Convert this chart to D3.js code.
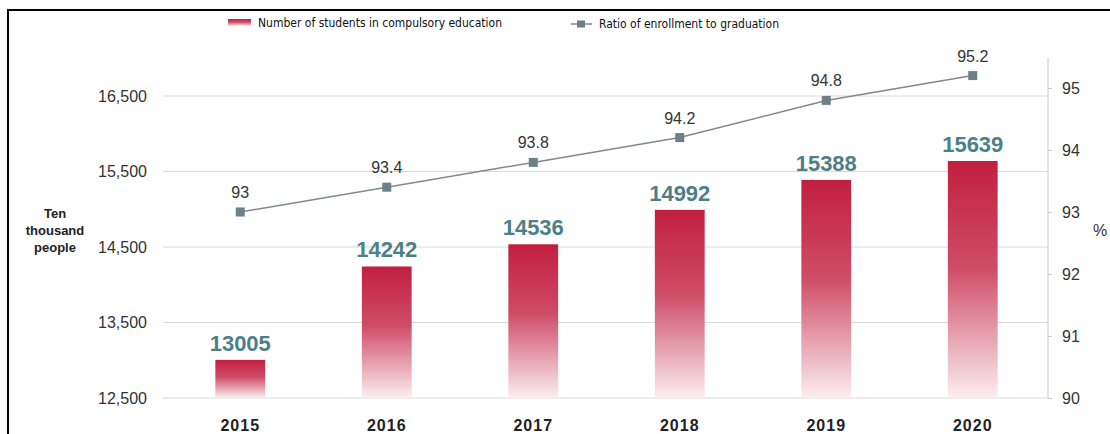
<!DOCTYPE html>
<html>
<head>
<meta charset="utf-8">
<script src="https://cdn.jsdelivr.net/npm/d3@7"></script>
<style>
  body { margin: 0; background: #fff; }
  svg { display: block; font-family: Arial, "Liberation Sans", sans-serif; }
</style>
</head>
<body>
<div id="chart"></div>
<script>
// data
var years = ["2015", "2016", "2017", "2018", "2019", "2020"];
var students = [13005, 14242, 14536, 14992, 15388, 15639];
var ratio = [93, 93.4, 93.8, 94.2, 94.8, 95.2];
var leftTicks = [12500, 13500, 14500, 15500, 16500];
var rightTicks = [90, 91, 92, 93, 94, 95];

var W = 1110, H = 434;
var svg = d3.select("#chart").append("svg")
    .attr("width", W)
    .attr("height", H);

// frame
svg.append("rect")
    .attr("x", 8).attr("y", 10)
    .attr("width", W + 10).attr("height", H + 10)
    .attr("fill", "none")
    .attr("stroke", "#000")
    .attr("stroke-width", 2);

// gradient for bars
var grad = svg.append("defs").append("linearGradient")
    .attr("id", "barGrad")
    .attr("x1", 0).attr("y1", 0).attr("x2", 0).attr("y2", 1);
grad.append("stop").attr("offset", "0%").attr("stop-color", "#c21f3f");
grad.append("stop").attr("offset", "45%").attr("stop-color", "#cf4c67");
grad.append("stop").attr("offset", "100%").attr("stop-color", "#fbeef1");

var x = d3.scaleBand()
    .domain(years)
    .range([167, 1046])
    .paddingInner(0.66)
    .paddingOuter(0.33);

var y = d3.scaleLinear()
    .domain([12500, 16500])
    .range([398, 96]);

var y2 = d3.scaleLinear()
    .domain([90, 95])
    .range([398, 88]);

// grid lines
svg.append("g")
    .selectAll("line")
    .data(leftTicks)
    .enter()
    .append("line")
    .attr("x1", 163).attr("x2", 1048)
    .attr("y1", function (d) { return y(d); })
    .attr("y2", function (d) { return y(d); })
    .attr("stroke", "#d9d9d9")
    .attr("stroke-width", 1);

// left axis
var leftAxis = svg.append("g")
    .attr("transform", "translate(150,0)")
    .call(d3.axisLeft(y).tickValues(leftTicks).tickSize(0).tickFormat(d3.format(",")));
leftAxis.select(".domain").remove();
leftAxis.selectAll("text")
    .attr("font-size", 16)
    .attr("fill", "#333")
    .attr("font-family", "Arial, 'Liberation Sans', sans-serif");

// left axis title
svg.append("text")
    .attr("x", 55).attr("y", 218)
    .attr("text-anchor", "middle")
    .attr("font-size", 13)
    .attr("font-weight", "bold")
    .attr("fill", "#222")
    .selectAll("tspan")
    .data(["Ten", "thousand", "people"])
    .enter()
    .append("tspan")
    .attr("x", 55)
    .attr("dy", function (d, i) { return i === 0 ? 0 : 17; })
    .text(function (d) { return d; });

// right axis
var rightAxis = svg.append("g")
    .attr("transform", "translate(1048,0)")
    .call(d3.axisRight(y2).tickValues(rightTicks).tickSize(4).tickPadding(10).tickFormat(d3.format("d")));
rightAxis.select(".domain")
    .attr("stroke", "#ccc")
    .attr("d", "M0,58V398");
rightAxis.selectAll(".tick line").attr("stroke", "#ccc");
rightAxis.selectAll("text")
    .attr("font-size", 16)
    .attr("fill", "#333")
    .attr("font-family", "Arial, 'Liberation Sans', sans-serif");

svg.append("text")
    .attr("x", 1100).attr("y", 236)
    .attr("text-anchor", "middle")
    .attr("font-size", 16)
    .attr("fill", "#333")
    .text("%");

// bars
svg.append("g")
    .selectAll("rect")
    .data(students)
    .enter()
    .append("rect")
    .attr("x", function (d, i) { return x(years[i]); })
    .attr("y", function (d) { return y(d); })
    .attr("width", x.bandwidth())
    .attr("height", function (d) { return y(12500) - y(d); })
    .attr("fill", "url(#barGrad)");

// bar value labels
svg.append("g")
    .selectAll("text")
    .data(students)
    .enter()
    .append("text")
    .attr("x", function (d, i) { return x(years[i]) + x.bandwidth() / 2; })
    .attr("y", function (d) { return y(d) - 9; })
    .attr("text-anchor", "middle")
    .attr("font-size", 22)
    .attr("font-weight", "bold")
    .attr("fill", "#4d7f84")
    .text(function (d) { return d; });

// x labels
svg.append("g")
    .selectAll("text")
    .data(years)
    .enter()
    .append("text")
    .attr("x", function (d) { return x(d) + x.bandwidth() / 2; })
    .attr("y", 431)
    .attr("text-anchor", "middle")
    .attr("font-size", 16)
    .attr("font-weight", "bold")
    .attr("fill", "#222")
    .attr("letter-spacing", 1)
    .text(function (d) { return d; });

// ratio line
var line = d3.line()
    .x(function (d, i) { return x(years[i]) + x.bandwidth() / 2; })
    .y(function (d) { return y2(d); });

svg.append("path")
    .datum(ratio)
    .attr("d", line)
    .attr("fill", "none")
    .attr("stroke", "#7d8a8f")
    .attr("stroke-width", 1.5);

svg.append("g")
    .selectAll("rect")
    .data(ratio)
    .enter()
    .append("rect")
    .attr("x", function (d, i) { return x(years[i]) + x.bandwidth() / 2 - 4.5; })
    .attr("y", function (d) { return y2(d) - 4.5; })
    .attr("width", 9).attr("height", 9)
    .attr("fill", "#6c8088");

svg.append("g")
    .selectAll("text")
    .data(ratio)
    .enter()
    .append("text")
    .attr("x", function (d, i) { return x(years[i]) + x.bandwidth() / 2; })
    .attr("y", function (d) { return y2(d) - 14; })
    .attr("text-anchor", "middle")
    .attr("font-size", 16)
    .attr("fill", "#333")
    .text(function (d) { return d; });

// legend
var legendFont = "'DejaVu Sans Condensed', 'Liberation Sans Narrow', sans-serif";
svg.append("rect")
    .attr("x", 228).attr("y", 19)
    .attr("width", 23).attr("height", 7)
    .attr("fill", "url(#barGrad)");
svg.append("text")
    .attr("x", 258).attr("y", 27)
    .attr("font-size", 12)
    .attr("font-family", legendFont)
    .attr("fill", "#111")
    .text("Number of students in compulsory education");

svg.append("line")
    .attr("x1", 571).attr("x2", 592)
    .attr("y1", 24).attr("y2", 24)
    .attr("stroke", "#7d8a8f")
    .attr("stroke-width", 1.5);
svg.append("rect")
    .attr("x", 577).attr("y", 20.5)
    .attr("width", 8).attr("height", 7)
    .attr("fill", "#6c8088");
svg.append("text")
    .attr("x", 599).attr("y", 28)
    .attr("font-size", 12)
    .attr("font-family", legendFont)
    .attr("fill", "#111")
    .text("Ratio of enrollment to graduation");
</script>
</body>
</html>
